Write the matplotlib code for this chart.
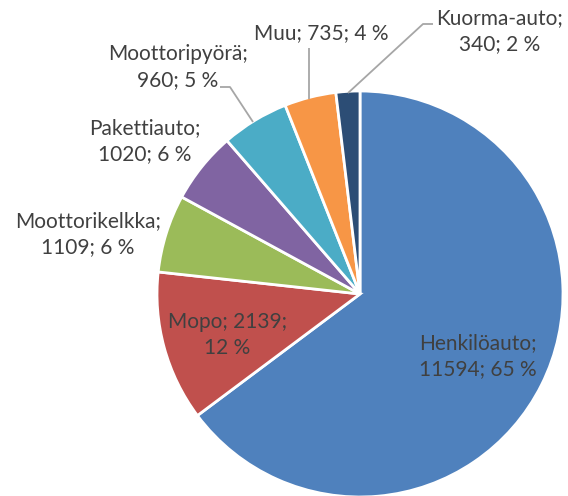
import matplotlib
matplotlib.use('Agg')
import matplotlib.pyplot as plt

# Vehicle categories and counts
categories = ['Henkilöauto', 'Mopo', 'Moottorikelkka', 'Pakettiauto',
              'Moottoripyörä', 'Muu', 'Kuorma-auto']
counts = [11594, 2139, 1109, 1020, 960, 735, 340]
percents = [65, 12, 6, 6, 5, 4, 2]
colors = ['#4F81BD', '#C0504D', '#9BBB59', '#8064A2',
          '#4BACC6', '#F79646', '#2C4D75']

W, H = 568, 496
fig = plt.figure(figsize=(W / 100, H / 100), dpi=100)
ax = fig.add_axes([0, 0, 1, 1])

ax.pie(counts, colors=colors, startangle=90, counterclock=False,
       center=(360, H - 294), radius=203,
       wedgeprops=dict(edgecolor='white', linewidth=2))
ax.set_xlim(0, W)
ax.set_ylim(0, H)
ax.set_aspect('equal')
ax.axis('off')

# label text, split like in the original (pixel positions from top)
texts = {
    'Henkilöauto': ('{c};\n{n}; {p} %', 478, 356),
    'Mopo': ('{c}; {n};\n{p} %', 227, 335),
    'Moottorikelkka': ('{c};\n{n}; {p} %', 88, 234),
    'Pakettiauto': ('{c};\n{n}; {p} %', 145, 141),
    'Moottoripyörä': ('{c};\n{n}; {p} %', 178, 67),
    'Muu': ('{c}; {n}; {p} %', 321, 33),
    'Kuorma-auto': ('{c};\n{n}; {p} %', 500, 31),
}
for c, n, p in zip(categories, counts, percents):
    fmt, x, y = texts[c]
    ax.text(x, H - y, fmt.format(c=c, n=n, p=p), ha='center', va='center',
            fontsize=15, family='Lato', color='#404040', linespacing=1.4)

# leader lines
leaders = [
    [(348, 93), (423, 24), (433, 24)],
    [(309, 99), (309, 48)],
    [(253, 122), (230, 87), (220, 87)],
]
for pts in leaders:
    ax.plot([q[0] for q in pts], [H - q[1] for q in pts],
            color='#A6A6A6', lw=1.3, solid_capstyle='butt')

fig.savefig('out.png', dpi=100)
